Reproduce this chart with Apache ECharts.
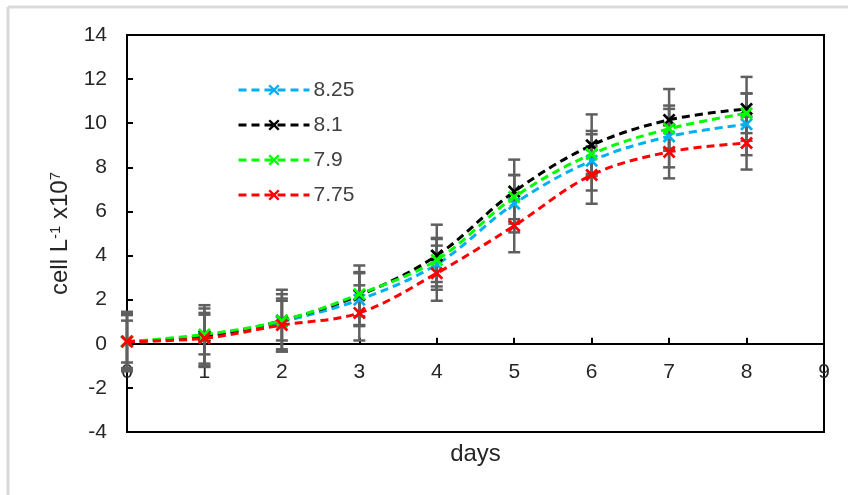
<!DOCTYPE html>
<html>
<head>
<meta charset="utf-8">
<script src="https://cdn.jsdelivr.net/npm/echarts@6/dist/echarts.min.js"></script>
<style>
  html, body { margin: 0; padding: 0; background: #fff; }
  #chart { width: 848px; height: 495px; }
</style>
</head>
<body>
<div id="chart"></div>
<script>
var days = [0, 1, 2, 3, 4, 5, 6, 7, 8];
var seriesNames = ['8.25', '8.1', '7.9', '7.75'];
var seriesColors = ['#00b0f0', '#000000', '#00ff00', '#ff0000'];

// mean values
var ph825 = [0.1, 0.3, 1.0, 2.0, 3.6, 6.35, 8.3, 9.4, 9.95];
var ph81 = [0.1, 0.35, 1.05, 2.2, 4.0, 6.9, 9.0, 10.15, 10.65];
var ph79 = [0.1, 0.42, 1.05, 2.25, 3.8, 6.65, 8.6, 9.75, 10.45];
var ph775 = [0.1, 0.25, 0.85, 1.4, 3.2, 5.35, 7.65, 8.7, 9.1];

// standard deviations
var sd825 = [1.3, 1.3, 1.25, 1.2, 1.15, 1.3, 1.35, 1.4, 1.4];
var sd81 = [1.35, 1.4, 1.4, 1.35, 1.4, 1.45, 1.4, 1.4, 1.45];
var sd79 = [0.95, 0.9, 0.9, 1.0, 1.0, 1.0, 0.9, 0.9, 0.9];
var sd775 = [1.2, 1.15, 1.2, 1.25, 1.25, 1.2, 1.3, 1.2, 1.2];

var yTicks = { min: -4, max: 14, step: 2 };
var xTicks = { min: 0, max: 9, step: 1 };

var means = [ph825, ph81, ph79, ph775];
var sds = [sd825, sd81, sd79, sd775];

var font = '"Liberation Sans", Arial, sans-serif';
var crossPath = 'path://M1.5,0L5,3.5L8.5,0L10,1.5L6.5,5L10,8.5L8.5,10L5,6.5L1.5,10L0,8.5L3.5,5L0,1.5Z';

var myChart = echarts.init(document.getElementById('chart'));

var series = [];
// error bars first, so they sit under the lines
for (var s = 0; s < means.length; s++) {
    var errData = [];
    for (var i = 0; i < days.length; i++) {
        errData.push([days[i], means[s][i] - sds[s][i], means[s][i] + sds[s][i]]);
    }
    series.push({
        type: 'custom',
        name: 'err' + s,
        z: 1,
        silent: true,
        data: errData,
        renderItem: function (params, api) {
            var x = api.value(0);
            var lo = api.coord([x, api.value(1)]);
            var hi = api.coord([x, api.value(2)]);
            var w = 6;
            var st = { stroke: '#5f5f5f', lineWidth: 2.5 };
            return {
                type: 'group',
                children: [
                    { type: 'line', shape: { x1: lo[0], y1: lo[1], x2: hi[0], y2: hi[1] }, style: st },
                    { type: 'line', shape: { x1: lo[0] - w, y1: lo[1], x2: lo[0] + w, y2: lo[1] }, style: st },
                    { type: 'line', shape: { x1: hi[0] - w, y1: hi[1], x2: hi[0] + w, y2: hi[1] }, style: st }
                ]
            };
        }
    });
}
for (var s = 0; s < means.length; s++) {
    var pts = [];
    for (var i = 0; i < days.length; i++) {
        pts.push([days[i], means[s][i]]);
    }
    series.push({
        type: 'line',
        name: seriesNames[s],
        z: 3 + s,
        data: pts,
        smooth: 0.35,
        symbol: crossPath,
        symbolSize: 13,
        showAllSymbol: true,
        animation: false,
        lineStyle: { color: seriesColors[s], width: 3, type: [8, 5] },
        itemStyle: { color: seriesColors[s] }
    });
}

var option = {
    backgroundColor: '#fff',
    animation: false,
    textStyle: { fontFamily: font },
    grid: {
        left: 127,
        top: 35,
        right: 24,
        bottom: 63,
        outerBoundsMode: 'none',
        containLabel: false,
        show: true,
        borderColor: '#000',
        borderWidth: 2,
        backgroundColor: 'transparent'
    },
    legend: {
        data: seriesNames,
        orient: 'vertical',
        left: 237,
        top: 79,
        padding: 0,
        itemWidth: 71,
        itemHeight: 14,
        itemGap: 13,
        lineStyle: { width: 3 },
        textStyle: { fontSize: 21, color: '#404040', fontFamily: font, lineHeight: 22, padding: [0, 0, 0, -1] }
    },
    xAxis: {
        type: 'value',
        min: xTicks.min,
        max: xTicks.max,
        interval: xTicks.step,
        offset: -88.2,
        name: 'days',
        nameLocation: 'middle',
        nameGap: 99,
        nameTextStyle: { fontSize: 24, color: '#262626', fontFamily: font },
        axisLine: { onZero: false, lineStyle: { color: '#000', width: 2 } },
        axisTick: { show: true, inside: true, length: 6, lineStyle: { color: '#000', width: 2 } },
        axisLabel: { fontSize: 21, color: '#262626', margin: 18, fontFamily: font },
        splitLine: { show: false }
    },
    yAxis: {
        type: 'value',
        min: yTicks.min,
        max: yTicks.max,
        interval: yTicks.step,
        name: '{b|cell L}{s|-1}{b| x10}{s|7}',
        nameLocation: 'middle',
        nameGap: 54,
        nameTextStyle: {
            color: '#262626',
            fontFamily: font,
            rich: {
                b: { fontSize: 24, color: '#262626', fontFamily: font },
                s: { fontSize: 15, color: '#262626', fontFamily: font, verticalAlign: 'top' }
            }
        },
        axisLine: { show: true, onZero: false, lineStyle: { color: '#000', width: 2 } },
        axisTick: { show: true, inside: true, length: 6, lineStyle: { color: '#000', width: 2 } },
        axisLabel: { fontSize: 21, color: '#262626', margin: 20, fontFamily: font },
        splitLine: { show: false }
    },
    graphic: [
        { type: 'line', shape: { x1: 8, y1: 7, x2: 848, y2: 7 }, style: { stroke: '#d9d9d9', lineWidth: 3 }, silent: true },
        { type: 'line', shape: { x1: 8, y1: 7, x2: 8, y2: 495 }, style: { stroke: '#d9d9d9', lineWidth: 3 }, silent: true }
    ],
    series: series
};
myChart.setOption(option);
</script>
</body>
</html>
